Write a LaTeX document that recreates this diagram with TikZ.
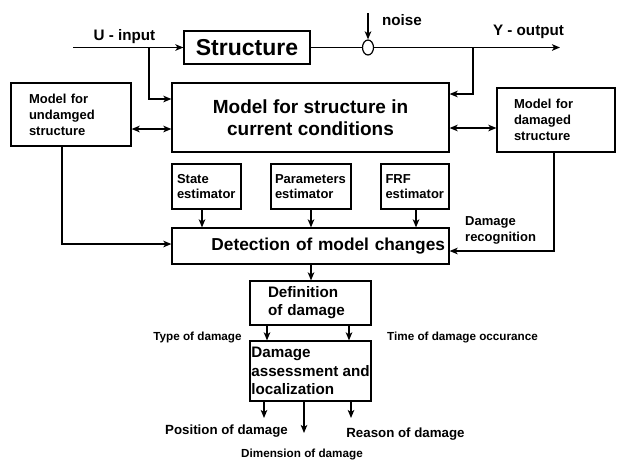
\documentclass[tikz,border=0pt]{standalone}
\usepackage{fontspec}
\setmainfont{Liberation Sans}
\usetikzlibrary{arrows.meta,shapes.geometric}
\newcommand\fsz[2]{\fontsize{#1}{#2}\selectfont\bfseries}
\begin{document}
\begin{tikzpicture}[x=1pt,y=-1pt,
  box/.style={draw, line width=1.2pt, rectangle, inner sep=0pt},
  conn/.style={line width=1.6pt},
  arr/.style={conn, -{Stealth[length=8pt,width=6.5pt,inset=2pt]}},
  darr/.style={conn, {Stealth[length=8pt,width=6.5pt,inset=2pt]}-{Stealth[length=8pt,width=6.5pt,inset=2pt]}},
  lbl/.style={inner sep=0pt}]
\useasboundingbox (0,0) rectangle (617,461);
% boxes
\node[box, font=\fsz{23}{26}, minimum width=126pt, minimum height=33pt] (struct) at (247,47.5) {Structure};
\node[ellipse, draw, line width=1.2pt, minimum width=11pt, minimum height=15pt, inner sep=0pt] (nz) at (368,47.5) {};
\node[box, font=\fsz{19}{22}, align=center, minimum width=277pt, minimum height=69pt] (model) at (310.5,117.5) {Model for structure in\\current conditions};
\node[box, font=\fsz{13}{16}, align=left, text width=84pt, inner xsep=18pt, minimum height=63pt] (undam) at (71,114.5) {Model for\\undamged\\structure};
\node[box, font=\fsz{13}{16}, align=left, text width=84pt, inner xsep=17pt, minimum height=64pt] (dam) at (556,120) {Model for\\damaged\\structure};
\node[box, font=\fsz{13}{15}, align=left, text width=59pt, inner xsep=5pt, minimum height=45pt] (state) at (206.5,186.5) {State\\estimator};
\node[box, font=\fsz{13}{15}, align=left, text width=72pt, inner xsep=4pt, minimum height=45pt] (param) at (311,186.5) {Parameters\\estimator};
\node[box, font=\fsz{13}{15}, align=left, text width=59pt, inner xsep=4.5pt, minimum height=45pt] (frf) at (415,186.5) {FRF\\estimator};
\node[box, font=\fsz{17.3}{20}, align=right, text width=269pt, inner xsep=4pt, minimum height=36pt] (detect) at (310.5,246) {Detection of model changes};
\node[box, font=\fsz{15.2}{18}, align=left, text width=85pt, inner xsep=18pt, minimum height=44pt] (defn) at (310.5,303) {Definition\\of damage};
\node[box, font=\fsz{15.2}{18.5}, align=left, minimum width=121pt, minimum height=60pt] (assess) at (310.5,371) {Damage\\assessment and\\localization};
% labels
\node[lbl, font=\fsz{15.2}{18}] (lin) at (124.5,37) {U - input};
\node[lbl, font=\fsz{15.2}{18}] (lnoise) at (402,20) {noise};
\node[lbl, font=\fsz{15.2}{18}] (lout) at (528.5,32) {Y - output};
\node[lbl, font=\fsz{13}{16}, align=left, anchor=west] (lrec) at (465,230) {Damage\\recognition};
\node[lbl, font=\fsz{11.7}{14}] (ltype) at (197.5,337) {Type of damage};
\node[lbl, font=\fsz{11.7}{14}] (ltime) at (462.5,337) {Time of damage occurance};
\node[lbl, font=\fsz{13.3}{16}] (lpos) at (226.5,431) {Position of damage};
\node[lbl, font=\fsz{11.7}{14}] (ldim) at (302,454) {Dimension of damage};
\node[lbl, font=\fsz{13.3}{16}] (lrea) at (405.5,434) {Reason of damage};
% free ends
\coordinate (uin) at (73,47.5);
\coordinate (b1) at (149,47.5);
\coordinate (b2) at (473,47.5);
\coordinate (yout) at (560,47.5);
\coordinate (ntop) at (368,13);
\coordinate (o1) at (264,418);
\coordinate (o2) at (304,433);
\coordinate (o3) at (351,418);
% connectors
\draw[arr] (uin) -- (struct.west);
\draw[arr] (b1) |- (model.west |- 0,99);
\draw[conn] (struct.east) -- (nz.west);
\draw[arr] (nz.east) -- (yout);
\draw[arr] (ntop) -- (nz.north);
\draw[arr] (b2) |- (model.east |- 0,94);
\draw[darr] (undam.east |- 0,129) -- (model.west |- 0,129);
\draw[darr] (model.east |- 0,128) -- (dam.west |- 0,128);
\draw[arr] (undam.south -| 62,0) |- (detect.west |- 0,244);
\draw[arr] (dam.south -| 554,0) |- (detect.east |- 0,251);
\draw[arr] (state.south -| 202,0) -- (detect.north -| 202,0);
\draw[arr] (param.south) -- (detect.north -| param.south);
\draw[arr] (frf.south -| 416,0) -- (detect.north -| 416,0);
\draw[arr] (detect.south -| 311,0) -- (defn.north -| 311,0);
\draw[arr] (defn.south -| 267,0) -- (assess.north -| 267,0);
\draw[arr] (defn.south -| 349,0) -- (assess.north -| 349,0);
\draw[arr] (assess.south -| o1) -- (o1);
\draw[arr] (assess.south -| o2) -- (o2);
\draw[arr] (assess.south -| o3) -- (o3);
\end{tikzpicture}
\end{document}
